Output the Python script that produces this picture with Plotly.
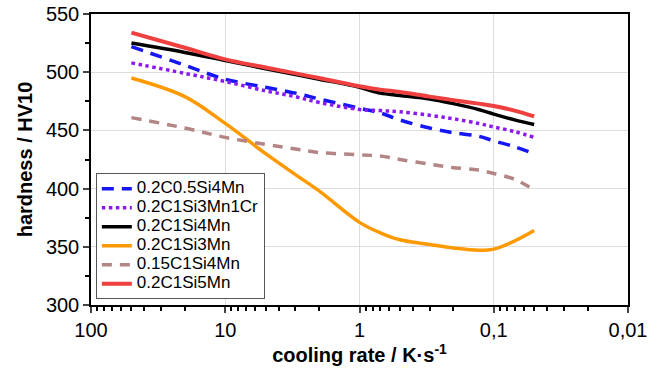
import plotly.graph_objects as go

rate = [50, 20, 10, 5, 3, 2, 1, 0.7, 0.5, 0.3, 0.2, 0.13, 0.1, 0.07, 0.05]

h_blue   = [522, 506, 494, 487, 482, 477, 469, 465, 459, 452, 448, 445, 441, 436, 430]
h_purple = [508, 499, 492, 484, 479, 474, 468, 467, 466, 463, 460, 456, 453, 449, 444]
h_black  = [525, 517, 510, 503, 498, 494, 487, 482, 480, 477, 473, 468, 464, 459, 455]
h_orange = [495, 479, 456, 430, 412, 398, 371, 362, 356, 352, 349, 347, 348, 355, 364]
h_brown  = [461, 452, 444, 438, 434, 431, 429, 428, 425, 421, 418, 416, 413, 408, 399]
h_red    = [534, 521, 511, 504, 499, 495, 488, 485, 483, 479, 476, 473, 471, 467, 462]

names = ["0.2C0.5Si4Mn", "0.2C1Si3Mn1Cr", "0.2C1Si4Mn", "0.2C1Si3Mn", "0.15C1Si4Mn", "0.2C1Si5Mn"]
series = [h_blue, h_purple, h_black, h_orange, h_brown, h_red]
colors = ["#1515f5", "#8a1af0", "#000000", "#ff9900", "#b38585", "#ef4040"]
dashes = ["12px,8px", "dot", "solid", "solid", "10px,8px", "solid"]
widths = [3.5, 3.5, 3.5, 3.5, 3.5, 4]

fig = go.Figure()
for n, s, c, d, w in zip(names, series, colors, dashes, widths):
    fig.add_trace(go.Scatter(x=rate, y=s, name='<span style="font-size:17px">%s</span>' % n,
                             mode="lines",
                             line=dict(color=c, dash=d, width=w, shape="spline", smoothing=1.0)))

xticks = [100, 10, 1, 0.1, 0.01]
xticktext = ["100", "10", "1", "0,1", "0,01"]

fig.update_layout(
    width=662, height=371,
    margin=dict(l=91, r=34, t=14, b=66, autoexpand=False),
    paper_bgcolor="white", plot_bgcolor="white",
    font=dict(family="Liberation Sans, Arial, sans-serif", size=20, color="black"),
    legend=dict(x=0.009, y=0.02, xanchor="left", yanchor="bottom",
                bgcolor="white", bordercolor="#555555", borderwidth=1,
                font=dict(size=12), tracegroupgap=0),
    showlegend=True,
)
fig.update_xaxes(
    type="log", range=[2, -2], automargin=False,
    tickvals=xticks, ticktext=xticktext,
    ticks="outside", ticklen=6, tickwidth=1.5,
    showline=True, linecolor="black", linewidth=1.5, mirror=True,
    showgrid=True, gridcolor="#dddddd", gridwidth=1,
    minor=dict(ticks="outside", ticklen=4, dtick="D1", showgrid=False, tickcolor="black"),
    title=dict(text="<b>cooling rate / K·s<sup>-1</sup></b>", standoff=0, font=dict(size=20)),
    tickfont=dict(size=20),
    zeroline=False,
)
fig.update_yaxes(
    range=[300, 550], dtick=50, automargin=False,
    ticks="outside", ticklen=6, tickwidth=1.5,
    showline=True, linecolor="black", linewidth=1.5, mirror=True,
    showgrid=True, gridcolor="#dddddd", gridwidth=1,
    minor=dict(ticks="outside", ticklen=4, dtick=25, showgrid=False, tickcolor="black"),
    title=dict(text="<b>hardness / HV10</b>", standoff=8, font=dict(size=20)),
    tickfont=dict(size=20),
    zeroline=False,
)

fig.write_html("out.html")
